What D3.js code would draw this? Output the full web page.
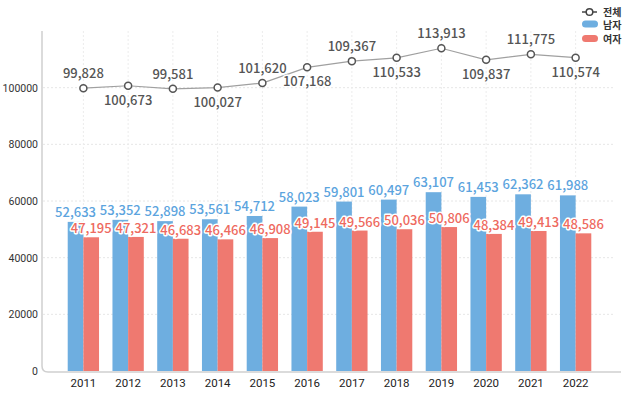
<!DOCTYPE html>
<html><head><meta charset="utf-8">
<script src="https://cdn.jsdelivr.net/npm/d3@7"></script>
<style>
body{margin:0;background:#fff;}
svg{display:block;font-family:"Noto Sans CJK KR","Noto Sans",sans-serif;}
</style></head>
<body><svg id="c" width="638" height="403"></svg>
<script>
const years = ["2011","2012","2013","2014","2015","2016","2017","2018","2019","2020","2021","2022"];
const total = [99828,100673,99581,100027,101620,107168,109367,110533,113913,109837,111775,110574];
const male = [52633,53352,52898,53561,54712,58023,59801,60497,63107,61453,62362,61988];
const female = [47195,47321,46683,46466,46908,49145,49566,50036,50806,48384,49413,48586];
const yTicks = [0,20000,40000,60000,80000,100000];
const seriesNames = ["전체","남자","여자"];

const svg = d3.select("#c");
const blue = "#6eaee0", red = "#ef7970", blueText = "#5ca4de", redText = "#ee6a60";
const x = d3.scaleBand().domain(years).range([61, 598]).paddingInner(0.3).paddingOuter(0.15);
const xs = d3.scaleBand().domain(["m","f"]).range([0, x.bandwidth()]);
const y = d3.scaleLinear().domain([0,120000]).range([371, 31]);
const cx = d => x(d) + x.bandwidth()/2;
const fmt = d3.format(",");

// grid
svg.append("g").selectAll("line").data(yTicks.slice(1)).join("line")
  .attr("x1",43).attr("x2",614).attr("y1",d=>y(d)).attr("y2",d=>y(d))
  .attr("stroke","#e6e6e6").attr("stroke-dasharray","2,2");
svg.append("g").selectAll("line").data(years).join("line")
  .attr("x1",d=>cx(d)).attr("x2",d=>cx(d)).attr("y1",31).attr("y2",371)
  .attr("stroke","#ececec").attr("stroke-dasharray","2,2");

// axes
const yAx = svg.append("g").attr("transform","translate(42,0)")
  .call(d3.axisLeft(y).tickValues(yTicks).tickSize(0).tickPadding(4).tickFormat(d3.format("d")));
yAx.select(".domain").remove();
yAx.selectAll("text").attr("font-size",10.5).attr("fill","#333").attr("font-family","Roboto, sans-serif");
svg.append("path").attr("d","M42,31 L42,366 Q42,372 48,372 L621,372")
  .attr("fill","none").attr("stroke","#cfcfcf").attr("stroke-width",1.5);
const xAx = svg.append("g").attr("transform","translate(0,372)")
  .call(d3.axisBottom(x).tickSize(0).tickPadding(7));
xAx.select(".domain").remove();
xAx.selectAll("text").attr("font-size",11.5).attr("fill","#222").attr("font-weight",400).attr("font-family","Roboto, sans-serif");

// bars
const g = svg.append("g");
g.selectAll("rect.m").data(years).join("rect").attr("class","m")
  .attr("x",d=>x(d)+xs("m")).attr("width",xs.bandwidth())
  .attr("y",(d,i)=>y(male[i])).attr("height",(d,i)=>y(0)-y(male[i])).attr("fill",blue);
g.selectAll("rect.f").data(years).join("rect").attr("class","f")
  .attr("x",d=>x(d)+xs("f")).attr("width",xs.bandwidth())
  .attr("y",(d,i)=>y(female[i])).attr("height",(d,i)=>y(0)-y(female[i])).attr("fill",red);

function lbl(sel){
  return sel.attr("text-anchor","middle").attr("font-size",13).attr("font-weight",500)
    .attr("stroke","#fff").attr("stroke-width",3).attr("paint-order","stroke").attr("stroke-linejoin","round");
}
lbl(svg.append("g").selectAll("text").data(years).join("text")
  .attr("x",d=>x(d)+xs("m")+xs.bandwidth()/2).attr("y",(d,i)=>y(male[i])-5)
  .attr("fill",blueText).text((d,i)=>fmt(male[i])));
lbl(svg.append("g").selectAll("text").data(years).join("text")
  .attr("x",d=>x(d)+xs("f")+xs.bandwidth()/2).attr("y",(d,i)=>y(female[i])-4)
  .attr("fill",redText).text((d,i)=>fmt(female[i])));

// line
const line = d3.line().x((d,i)=>cx(years[i])).y(d=>y(d));
svg.append("path").datum(total).attr("d",line).attr("fill","none").attr("stroke","#a0a0a0").attr("stroke-width",1.2);
svg.append("g").selectAll("circle").data(total).join("circle")
  .attr("cx",(d,i)=>cx(years[i])).attr("cy",d=>y(d)).attr("r",3.5)
  .attr("fill","#fff").attr("stroke","#555").attr("stroke-width",1.5);
lbl(svg.append("g").selectAll("text").data(total).join("text")
  .attr("x",(d,i)=>cx(years[i])).attr("y",(d,i)=>i%2===0 ? y(d)-10 : y(d)+19)
  .attr("fill","#555").text(d=>fmt(d)));

// legend
const lg = svg.append("g").attr("font-size",10).attr("font-weight",700).attr("fill","#333");
lg.append("line").attr("x1",582).attr("x2",597).attr("y1",12).attr("y2",12).attr("stroke","#444").attr("stroke-width",1.5);
lg.append("circle").attr("cx",589.5).attr("cy",12).attr("r",3.3).attr("fill","#fff").attr("stroke","#444").attr("stroke-width",1.5);
lg.append("rect").attr("x",582).attr("y",20.5).attr("width",16).attr("height",7).attr("rx",3.5).attr("fill",blue);
lg.append("rect").attr("x",582).attr("y",35).attr("width",16).attr("height",7).attr("rx",3.5).attr("fill",red);
lg.selectAll("text").data(seriesNames).join("text")
  .attr("x",603).attr("y",(d,i)=>12+i*13.5+3.5).text(d=>d);
</script></body></html>
